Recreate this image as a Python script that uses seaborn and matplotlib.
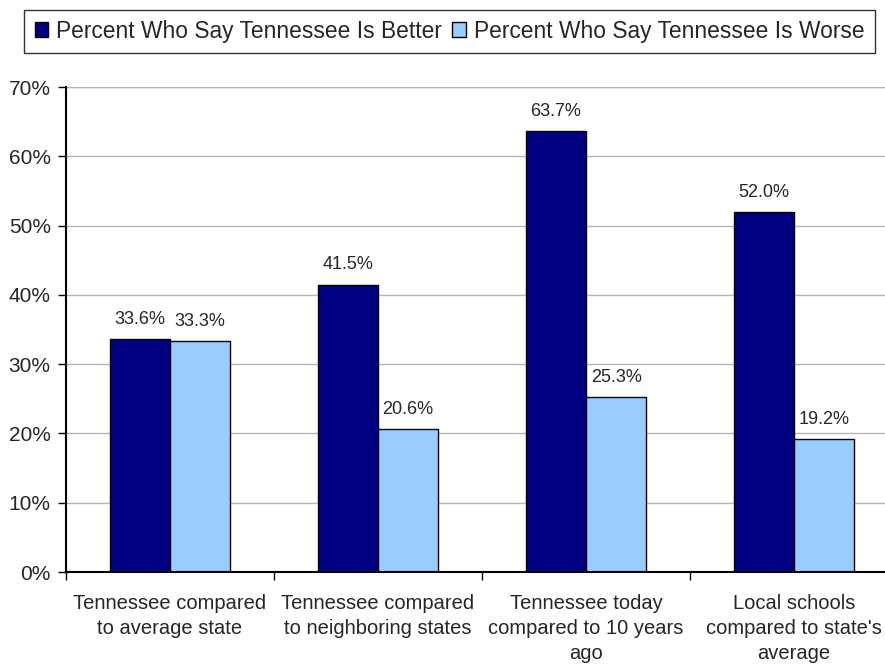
import pandas as pd
import matplotlib.pyplot as plt
import seaborn as sns

# Data
categories = ['Tennessee compared\nto average state',
              'Tennessee compared\nto neighboring states',
              'Tennessee today\ncompared to 10 years\nago',
              'Local schools\ncompared to state\'s\naverage']
better = [33.6, 41.5, 63.7, 52.0]
worse = [33.3, 20.6, 25.3, 19.2]
series_names = ['Percent Who Say Tennessee Is Better',
                'Percent Who Say Tennessee Is Worse']
yticks = [0, 10, 20, 30, 40, 50, 60, 70]

df = pd.DataFrame({
    'Category': categories * 2,
    'Series': [series_names[0]] * 4 + [series_names[1]] * 4,
    'Value': better + worse,
})

sns.set_style('white')
plt.rcParams['font.family'] = ['Liberation Sans', 'DejaVu Sans']

fig = plt.figure(figsize=(8.85, 6.65), dpi=100)
ax = fig.add_axes([0.0746, 0.1398, 0.94, 0.7293])

sns.barplot(data=df, x='Category', y='Value', hue='Series',
            palette=['#000080', '#99CCFF'], width=0.58,
            edgecolor='black', linewidth=1.0, saturation=1, ax=ax,
            legend=True)

# value labels
for cont in ax.containers:
    for bar in cont:
        h = bar.get_height()
        ax.annotate(f'{h:.1f}%', (bar.get_x() + bar.get_width() / 2, h),
                    xytext=(0, 8), textcoords='offset points',
                    ha='center', va='bottom', fontsize=13)

ax.set_ylim(0, 70)
ax.set_xlim(-0.5, 3.5)
ax.set_yticks(yticks)
ax.set_yticklabels([f'{t}%' for t in yticks], fontsize=15)
ax.yaxis.grid(True, color='#b4b4b4', linewidth=1.0)
ax.set_axisbelow(True)

# category labels centred, tick marks on the group boundaries
ax.set_xticks(range(4))
ax.set_xticklabels(categories, fontsize=14.5, linespacing=1.38)
ax.set_xticks([-0.5, 0.5, 1.5, 2.5, 3.5], minor=True)
ax.tick_params(axis='x', which='major', length=0, pad=16)
ax.tick_params(axis='x', which='minor', length=6, width=1, color='black',
               direction='out', bottom=True)
ax.tick_params(axis='y', length=6, width=1, color='black', direction='out',
               left=True, pad=5)

ax.set_xlabel('')
ax.set_ylabel('')
for side in ['top', 'right']:
    ax.spines[side].set_visible(False)
for side in ['left', 'bottom']:
    ax.spines[side].set_color('black')
    ax.spines[side].set_linewidth(1.5)
ax.axhline(70, color='#404040', linewidth=1.5, zorder=0.5)

ax.get_legend().remove()
handles, labels = ax.get_legend_handles_labels()
leg = fig.legend(handles[:2], labels[:2], ncol=2, loc='center',
                 bbox_to_anchor=(0.508, 0.953), frameon=True, fancybox=False,
                 edgecolor='black', fontsize=16.4, handlelength=0.6,
                 handleheight=0.6, handletextpad=0.35, columnspacing=0.45,
                 borderpad=0.45)
leg.get_frame().set_linewidth(1.0)

fig.savefig('out.png', dpi=100)
